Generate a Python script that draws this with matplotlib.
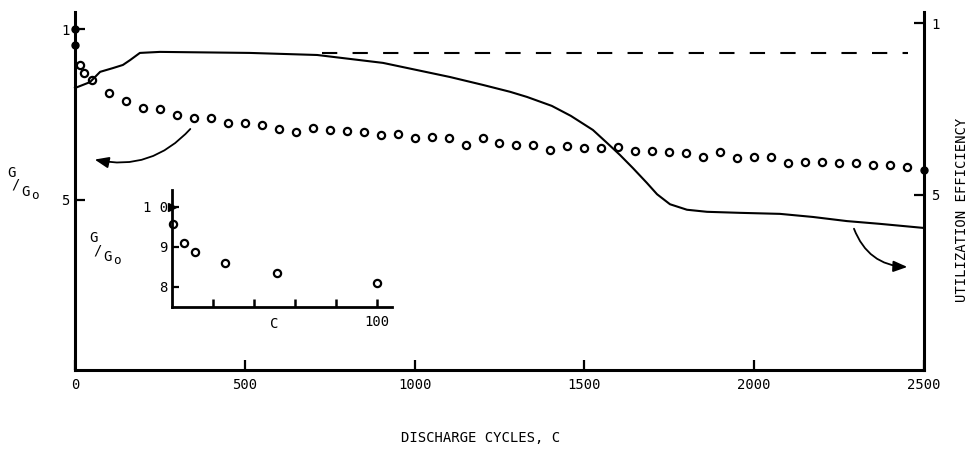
import matplotlib
matplotlib.use('Agg')
import matplotlib.pyplot as plt

plt.rcParams['font.family'] = ['DejaVu Sans Mono', 'DejaVu Sans']
plt.rcParams['lines.scale_dashes'] = False

# ---- data ----
gg_cycles = [15, 26, 50, 100, 150, 200, 250, 300, 350, 400, 450, 500,
             550, 600, 650, 700, 750, 800, 850, 900, 950, 1000, 1050, 1100,
             1150, 1200, 1250, 1300, 1350, 1400, 1450, 1500, 1550, 1600,
             1650, 1700, 1750, 1800, 1850, 1900, 1950, 2000, 2050, 2100,
             2150, 2200, 2250, 2300, 2350, 2400, 2450]
gg_values = [0.894, 0.871, 0.850, 0.812, 0.788, 0.768, 0.765, 0.747, 0.738,
             0.738, 0.724, 0.724, 0.718, 0.706, 0.697, 0.709, 0.703, 0.700,
             0.697, 0.688, 0.691, 0.679, 0.682, 0.679, 0.659, 0.679, 0.665,
             0.659, 0.659, 0.645, 0.656, 0.650, 0.650, 0.653, 0.641, 0.641,
             0.638, 0.635, 0.624, 0.638, 0.621, 0.624, 0.624, 0.606, 0.609,
             0.609, 0.606, 0.606, 0.600, 0.600, 0.594]
gg_filled_cycles = [0, 0, 2500]
gg_filled_values = [1.0, 0.953, 0.588]

util_cycles = [0, 44, 74, 112, 141, 162, 191, 250, 515, 713, 907, 1104, 1201,
               1281, 1331, 1404, 1460, 1525, 1567, 1605, 1643, 1684, 1714,
               1752, 1802, 1861, 1958, 2076, 2173, 2273, 2370, 2500]
util_values = [0.811, 0.828, 0.858, 0.869, 0.878, 0.892, 0.913, 0.916, 0.913,
               0.907, 0.884, 0.843, 0.820, 0.800, 0.785, 0.759, 0.730, 0.689,
               0.651, 0.616, 0.578, 0.535, 0.502, 0.473, 0.457, 0.451, 0.448,
               0.445, 0.436, 0.424, 0.416, 0.404]

dash_cycles = [727, 2453]
dash_values = [0.914, 0.914]

inset_cycles = [0.5, 6, 11, 26, 51, 100]
inset_values = [0.958, 0.910, 0.888, 0.860, 0.835, 0.810]
inset_filled_cycles = [0]
inset_filled_values = [1.0]

x_ticks = [0, 500, 1000, 1500, 2000, 2500]
x_ticklabels = ['0', '500', '1000', '1500', '2000', '2500']
left_ticks = [0.5, 1.0]
left_ticklabels = ['5', '1']
right_ticks = [0.5, 1.0]
right_ticklabels = ['5', '1']
inset_xticks = [20, 40, 60, 80, 100]
inset_xticklabels = ['', '', '', '', '100']
inset_yticks = [0.8, 0.9, 1.0]
inset_yticklabels = ['8', '9', '1 0']

W, H = 979, 449
fig = plt.figure(figsize=(W / 100, H / 100), dpi=100)

ax = fig.add_axes([75 / W, 1 - 370 / H, 849 / W, 358 / H])
ax.set_xlim(0, 2500)
ax.set_ylim(0, 1.05)
ax2 = ax.twinx()
ax2.set_ylim(-0.009, 1.032)

for a in (ax, ax2):
    a.spines['top'].set_visible(False)
    a.patch.set_visible(False)
ax.spines['right'].set_visible(False)
ax2.spines['left'].set_visible(False)
ax2.spines['bottom'].set_visible(False)
ax.spines['left'].set_linewidth(2.2)
ax.spines['bottom'].set_linewidth(2.2)
ax2.spines['right'].set_linewidth(2.2)

ax.set_xticks(x_ticks)
ax.set_xticklabels(x_ticklabels)
ax.set_yticks(left_ticks)
ax.set_yticklabels(left_ticklabels)
ax2.set_yticks(right_ticks)
ax2.set_yticklabels(right_ticklabels)
ax.tick_params(axis='x', direction='in', length=7, width=1.6, pad=6, labelsize=10)
ax.tick_params(axis='y', direction='in', length=7, width=1.6, pad=4, labelsize=10)
ax2.tick_params(axis='y', direction='in', length=7, width=1.6, pad=5, labelsize=10)

# G/Go points
ax.plot(gg_cycles, gg_values, linestyle='none', marker='o', markersize=5.2,
        markerfacecolor='white', markeredgecolor='black', markeredgewidth=1.6,
        clip_on=False)
ax.plot(gg_filled_cycles, gg_filled_values, linestyle='none', marker='o',
        markersize=5, color='black', clip_on=False)

# utilization efficiency
ax2.plot(util_cycles, util_values, color='black', linewidth=1.5,
         solid_joinstyle='round', clip_on=False)
ax2.plot(dash_cycles, dash_values, color='black', linewidth=1.5,
         dashes=(11, 11))

# arrows
ax.annotate('', xy=(50, 0.619), xytext=(345, 0.713),
            arrowprops=dict(arrowstyle='-|>,head_length=0.7,head_width=0.28',
                            connectionstyle='arc3,rad=-0.3', lw=1.3,
                            color='black', mutation_scale=12))
ax.annotate('', xy=(2459, 0.302), xytext=(2291, 0.422),
            arrowprops=dict(arrowstyle='-|>,head_length=0.7,head_width=0.28',
                            connectionstyle='arc3,rad=0.35', lw=1.3,
                            color='black', mutation_scale=12))

# labels
fig.text(481 / W, 1 - 438 / H, 'DISCHARGE CYCLES, C', ha='center', va='center',
         fontsize=10)
fig.text(962 / W, 1 - 210 / H, 'UTILIZATION EFFICIENCY', ha='center',
         va='center', rotation=90, fontsize=10)


def ggo(x, y, fs=10):
    fig.text(x / W, 1 - y / H, 'G', ha='center', va='center', fontsize=fs)
    fig.text((x + 5) / W, 1 - (y + 12) / H, '/', ha='center', va='center',
             fontsize=fs)
    fig.text((x + 14) / W, 1 - (y + 19) / H, 'G', ha='center', va='center',
             fontsize=fs)
    fig.text((x + 24) / W, 1 - (y + 22) / H, 'o', ha='center', va='center',
             fontsize=fs * 0.9)


ggo(11, 173)
ggo(93, 238)

# inset
axi = fig.add_axes([172 / W, 1 - 307 / H, 220 / W, 117 / H])
axi.patch.set_visible(False)
axi.set_xlim(0, 107.3)
axi.set_ylim(0.75, 1.0425)
axi.spines['top'].set_visible(False)
axi.spines['right'].set_visible(False)
axi.spines['left'].set_linewidth(2.0)
axi.spines['bottom'].set_linewidth(2.0)
axi.set_xticks(inset_xticks)
axi.set_xticklabels(inset_xticklabels)
axi.set_yticks(inset_yticks)
axi.set_yticklabels(inset_yticklabels)
axi.tick_params(axis='x', direction='in', length=6, width=1.8, pad=6, labelsize=10)
axi.tick_params(axis='y', direction='in', length=5, width=1.6, pad=3, labelsize=10)
axi.text(50, -0.085, 'C', transform=axi.get_xaxis_transform(), ha='center',
         va='top', fontsize=10)
axi.plot(inset_cycles, inset_values, linestyle='none', marker='o',
         markersize=5.2, markerfacecolor='white', markeredgecolor='black',
         markeredgewidth=1.6, clip_on=False)
axi.plot(inset_filled_cycles, inset_filled_values, linestyle='none',
         marker='>', markersize=6, color='black', clip_on=False)

fig.savefig('out.png', dpi=100)
